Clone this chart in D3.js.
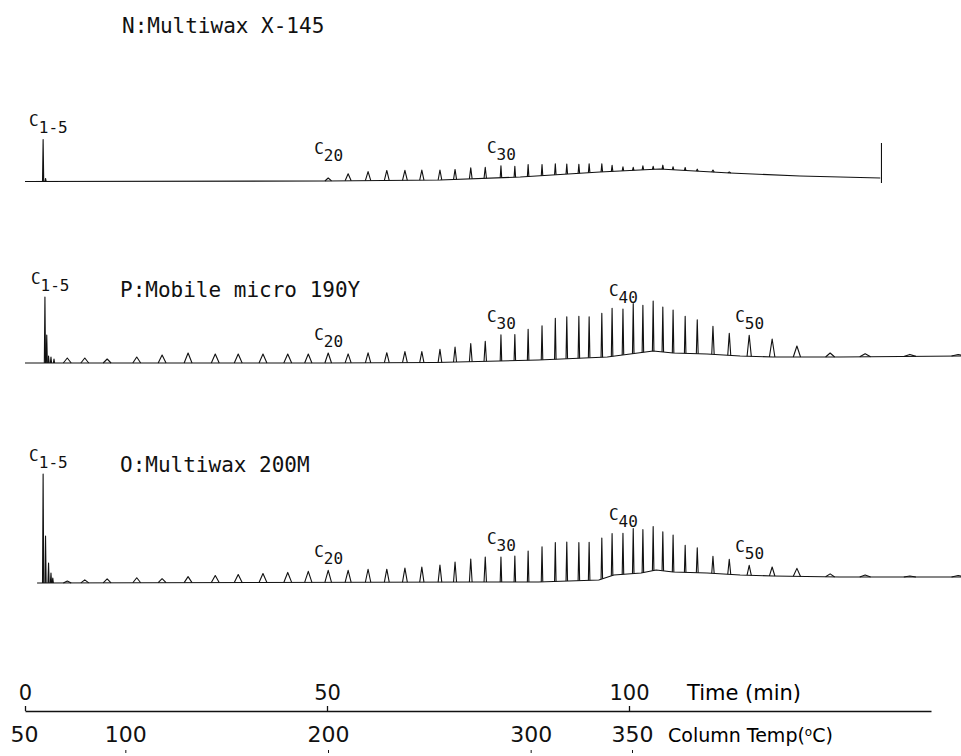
<!DOCTYPE html>
<html>
<head>
<meta charset="utf-8">
<script src="https://cdn.jsdelivr.net/npm/d3@7"></script>
<style>
  body { margin: 0; background: #fff; }
  svg { display: block; }
  .trace { fill: none; stroke: #111; stroke-width: 1.1; stroke-linejoin: round; }
  .title { font-family: "DejaVu Sans Mono", monospace; font-size: 21px; fill: #111; }
  .clabel { font-family: "DejaVu Sans Mono", monospace; font-size: 16px; fill: #111; }
  .axis text { font-family: "DejaVu Sans", sans-serif; fill: #111; }
  .axis line, .axis path { stroke: #111; stroke-width: 1.3; }
</style>
</head>
<body>
<div id="chart"></div>
<script>
// n-alkane peaks, carbon number and retention time (min)
const carbons = [9, 10, 11, 12, 13, 14, 15, 16, 17, 18, 19, 20, 21, 22, 23, 24, 25, 26, 27, 28, 29,
    30, 31, 32, 33, 34, 35, 36, 37, 38, 39, 40, 41, 42, 43, 44, 45, 46, 47, 48, 49,
    50, 51, 52, 53, 54, 55, 56];
const retentionMin = [7.0, 9.9, 13.6, 18.5, 22.7, 27.0, 31.5, 35.3, 39.4, 43.5, 46.9, 50.2, 53.5, 56.8, 59.9, 62.9, 65.7, 68.7, 71.2, 73.8, 76.2,
    78.8, 81.1, 83.3, 85.6, 87.8, 89.7, 91.7, 93.4, 95.5, 97.2, 99.0, 100.7, 102.3, 104.0, 105.6, 107.3, 109.3, 111.3, 113.9, 116.6,
    119.9, 123.7, 127.8, 133.3, 139.1, 146.5, 154.5];
// width of each peak at its base (min)
const peakWidthMin = [1.3, 1.3, 1.3, 1.3, 1.3, 1.3, 1.3, 1.3, 1.3, 1.3, 1.2, 1.1, 1.0, 0.9, 0.8, 0.8, 0.7, 0.6, 0.5, 0.45, 0.4,
    0.25, 0.25, 0.25, 0.25, 0.25, 0.25, 0.25, 0.25, 0.25, 0.25, 0.25, 0.25, 0.25, 0.25, 0.25, 0.25, 0.25, 0.3, 0.4, 0.5,
    0.7, 0.9, 1.2, 1.5, 1.8, 2.0, 2.2];

// peak heights above baseline (relative response)
const heightsN = [0, 0, 0, 0, 0, 0, 0, 0, 0, 0, 0, 3, 7, 9, 10, 10, 10, 10, 10, 11, 11,
    12, 11, 12, 11, 11, 10, 9, 9, 8, 6, 4, 3, 4, 3, 4, 3, 3, 2, 2, 1,
    0, 0, 0, 0, 0, 0, 0];
const heightsP = [5, 5, 4, 6, 8, 10, 9, 9, 9, 9, 9, 10, 9, 10, 10, 11, 11, 13, 15, 18, 20,
    26, 26, 31, 34, 41, 42, 42, 41, 44, 48, 46, 50, 47, 50, 45, 43, 37, 34, 28, 22,
    21, 18, 11, 4, 3, 2, 1.5];
const heightsO = [2, 3, 4, 5, 4, 6, 7, 8, 9, 10, 11, 12, 12, 13, 13, 14, 15, 17, 20, 23, 25,
    25, 26, 31, 35, 39, 39, 38, 38, 41, 42, 41, 45, 43, 44, 39, 37, 27, 25, 17, 15,
    10, 9, 8, 3, 2, 1, 1.5];

// C1-5 light ends cluster: retention time (min) and height
const lightTimeN = [3.0, 3.4];
const lightN = [42, 3];
const lightTimeP = [3.3, 3.6, 3.9, 4.3, 4.8];
const lightP = [66, 28, 7, 6, 4];
const lightTimeO = [3.0, 3.4, 3.9, 4.3, 4.6];
const lightO = [109, 47, 20, 10, 5];

// baseline drift (time, level)
const baseTimeN = [0, 50, 68.7, 82, 95.2, 105.1, 116.7, 128.3, 141.6];
const baseLevelN = [0.5, 1, 2, 5, 10, 13, 9, 6, 4];
const baseTimeP = [0, 50, 68, 85, 96.4, 104, 107.3, 112.9, 118.4, 123.8, 134.9, 155];
const baseLevelP = [1, 1, 1.5, 4, 7, 13, 11, 10, 8, 7, 7, 8];
const baseTimeO = [2, 75, 85, 95, 97.5, 102, 104.5, 107.3, 112.9, 118.4, 123.8, 134.9, 155];
const baseLevelO = [1, 2, 2, 4, 9, 11, 14, 12, 11, 9, 8, 7, 7];

const timeTicks = [0, 50, 100];
const tempTicks = [50, 100, 200, 300, 350];

const width = 961, height = 756;

const svg = d3.select("#chart").append("svg")
    .attr("width", width)
    .attr("height", height);

const xTime = d3.scaleLinear().domain([0, 150]).range([25, 931]);
const xTemp = d3.scaleLinear().domain([50, 350]).range([24, 632]);

const panels = [
    { name: "N:Multiwax X-145", zeroY: 182, titleX: 122, titleY: 33,
      heights: heightsN, lightTime: lightTimeN, light: lightN,
      baseTime: baseTimeN, baseLevel: baseLevelN, labels: [20, 30], endMark: true },
    { name: "P:Mobile micro 190Y", zeroY: 364, titleX: 120, titleY: 297,
      heights: heightsP, lightTime: lightTimeP, light: lightP,
      baseTime: baseTimeP, baseLevel: baseLevelP, labels: [20, 30, 40, 50] },
    { name: "O:Multiwax 200M", zeroY: 584, titleX: 120, titleY: 472,
      heights: heightsO, lightTime: lightTimeO, light: lightO,
      baseTime: baseTimeO, baseLevel: baseLevelO, labels: [20, 30, 40, 50] }
];

// small hand nudges for labels that sit higher than their peak
const labelLift = { "N:Multiwax X-145-20": 11 };

function addCLabel(g, x, y, sub) {
    const t = g.append("text").attr("class", "clabel").attr("x", x).attr("y", y - 7);
    t.append("tspan").text("C");
    t.append("tspan").attr("dy", 7).text(sub);
}

function drawPanel(p) {
    const g = svg.append("g");
    const y = d3.scaleLinear().domain([0, 100]).range([p.zeroY, p.zeroY - 100]);
    const baseAt = d3.scaleLinear().domain(p.baseTime).range(p.baseLevel).clamp(true);
    const line = d3.line().x(d => xTime(d[0])).y(d => y(d[1]));
    const tEnd = p.baseTime[p.baseTime.length - 1];

    g.append("path").attr("class", "trace")
        .attr("d", line(p.baseTime.map((t, i) => [t, p.baseLevel[i]])));

    const peaks = carbons.map((c, i) => ({ c, t: retentionMin[i], w: peakWidthMin[i], h: p.heights[i] }))
        .filter(d => d.h > 0 && d.t <= tEnd);
    const light = p.lightTime.map((t, i) => ({ t, w: 0.2, h: p.light[i] }));

    const peakPath = d => line([
        [d.t - d.w / 2, baseAt(d.t - d.w / 2)],
        [d.t, baseAt(d.t) + d.h],
        [d.t + d.w / 2, baseAt(d.t + d.w / 2)]
    ]);

    g.selectAll("path.peak").data(light.concat(peaks)).join("path")
        .attr("class", "trace peak")
        .attr("d", peakPath);

    if (p.endMark) {
        g.append("path").attr("class", "trace")
            .attr("d", line([[tEnd + 0.2, -1], [tEnd + 0.2, 39]]));
    }

    g.append("text").attr("class", "title")
        .attr("x", p.titleX).attr("y", p.titleY).text(p.name);

    // C1-5 label over the largest light-end spike
    const top = light[0];
    addCLabel(g, xTime(top.t) - 14, y(baseAt(top.t) + top.h) - 6, "1-5");

    p.labels.forEach(c => {
        const d = peaks.find(k => k.c === c);
        const lift = labelLift[p.name + "-" + c] || 0;
        addCLabel(g, xTime(d.t) - 14, y(baseAt(d.t) + d.h) - 6 - lift, String(c));
    });
}

panels.forEach(drawPanel);

// time axis
const timeAxis = svg.append("g").attr("class", "axis")
    .attr("transform", "translate(0,711)")
    .call(d3.axisTop(xTime).tickValues(timeTicks).tickSize(5).tickSizeOuter(0).tickPadding(6));
timeAxis.selectAll("text").style("font-size", "21px");

svg.append("text")
    .attr("x", 687).attr("y", 700)
    .style("font-family", "DejaVu Sans, sans-serif").style("font-size", "21px")
    .text("Time (min)");

// column temperature scale
const tempAxis = svg.append("g").attr("class", "axis")
    .attr("transform", "translate(0,753)")
    .call(d3.axisTop(xTemp).tickValues(tempTicks).tickSize(3).tickPadding(8));
tempAxis.select(".domain").remove();
tempAxis.selectAll("text").style("font-size", "22px");
tempAxis.selectAll(".tick line").style("stroke-width", 1).filter(d => d === 50).remove();

const tempTitle = svg.append("text")
    .attr("x", 668).attr("y", 742)
    .style("font-family", "DejaVu Sans, sans-serif").style("font-size", "19px")
    .text("Column Temp(");
tempTitle.append("tspan").attr("dy", -6).style("font-size", "12px").text("o");
tempTitle.append("tspan").attr("dy", 6).text("C)");
</script>
</body>
</html>
